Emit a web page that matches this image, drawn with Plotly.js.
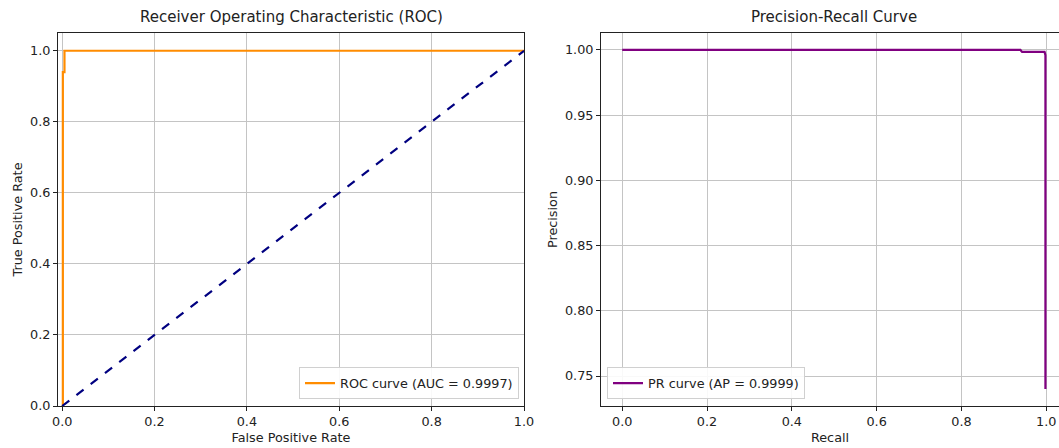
<!DOCTYPE html>
<html>
<head>
<meta charset="utf-8">
<script src="https://cdn.plot.ly/plotly-3.0.1.min.js"></script>
<style>html,body{margin:0;padding:0;background:#fff;}#chart{width:1059px;height:448px;}</style>
</head>
<body>
<div id="chart"></div>
<script>
// ROC curve data
const rocFpr = [0.0, 0.0015, 0.0015, 0.005, 0.005, 1.0];
const rocTpr = [0.0, 0.0, 0.94, 0.94, 1.0, 1.0];
const rocLabel = 'ROC curve (AUC = 0.9997)';
// chance diagonal
const diagX = [0, 1];
const diagY = [0, 1];
// Precision-Recall data
const prRecall = [0.0, 0.939, 0.943, 0.996, 0.998, 0.998];
const prPrecision = [1.0, 1.0, 0.9985, 0.9985, 0.996, 0.740];
const prLabel = 'PR curve (AP = 0.9999)';

const W = 1059, H = 448;
const FS = 12.8;
const font = {family: 'DejaVu Sans, sans-serif', size: FS, color: '#222'};
const axisBase = {
  showline: true, linecolor: '#222', linewidth: 1,
  ticks: 'outside', ticklen: 4, tickcolor: '#222', tickwidth: 1,
  showgrid: true, gridcolor: '#c4c4c4', gridwidth: 1,
  zeroline: false, automargin: false,
  tickfont: {family: 'DejaVu Sans, sans-serif', size: FS, color: '#222'}
};

const traces = [
  {x: rocFpr, y: rocTpr, mode: 'lines', name: rocLabel, line: {color: '#ff8c00', width: 2.2}, xaxis: 'x', yaxis: 'y', legend: 'legend'},
  {x: diagX, y: diagY, mode: 'lines', showlegend: false, line: {color: '#000080', width: 2.2, dash: 'dash'}, xaxis: 'x', yaxis: 'y'},
  {x: prRecall, y: prPrecision, mode: 'lines', name: prLabel, line: {color: '#800080', width: 2.2}, xaxis: 'x2', yaxis: 'y2', legend: 'legend2'}
];

const layout = {
  width: W, height: H,
  margin: {l: 0, r: 0, t: 33, b: 42},
  paper_bgcolor: '#fff', plot_bgcolor: '#fff',
  font: font,
  showlegend: true,
  xaxis: Object.assign({}, axisBase, {
    domain: [58 / W, 524 / W], range: [-0.009, 1.0], dtick: 0.2, tickformat: '.1f', mirror: true,
    title: {text: 'False Positive Rate', font: {size: FS, color: '#222'}, standoff: 4}
  }),
  yaxis: Object.assign({}, axisBase, {
    anchor: 'x', range: [0, 1.05], dtick: 0.2, tickformat: '.1f', mirror: true,
    title: {text: 'True Positive Rate', font: {size: FS, color: '#222'}, standoff: 4}
  }),
  xaxis2: Object.assign({}, axisBase, {
    domain: [601 / W, 1], range: [-0.05, 1.03], dtick: 0.2, tickformat: '.1f', mirror: true, anchor: 'y2',
    title: {text: 'Recall', font: {size: FS, color: '#222'}, standoff: 4}
  }),
  yaxis2: Object.assign({}, axisBase, {
    anchor: 'x2', range: [0.727, 1.013], dtick: 0.05, tickformat: '.2f', mirror: false,
    title: {text: 'Precision', font: {size: FS, color: '#222'}, standoff: 4}
  }),
  legend: {
    x: 519 / W, xanchor: 'right', y: 0.018, yanchor: 'bottom',
    bgcolor: 'rgba(255,255,255,0.9)', bordercolor: '#d0d0d0', borderwidth: 1,
    font: {family: 'DejaVu Sans, sans-serif', size: FS, color: '#222'}
  },
  legend2: {
    x: 607 / W, xanchor: 'left', y: 0.018, yanchor: 'bottom',
    bgcolor: 'rgba(255,255,255,0.9)', bordercolor: '#d0d0d0', borderwidth: 1,
    font: {family: 'DejaVu Sans, sans-serif', size: FS, color: '#222'}
  },
  annotations: [
    {text: 'Receiver Operating Characteristic (ROC)', xref: 'paper', yref: 'paper', x: (58 + 524) / 2 / W, y: 1, yshift: 5, yanchor: 'bottom', xanchor: 'center', showarrow: false, font: {family: 'DejaVu Sans, sans-serif', size: 15, color: '#222'}},
    {text: 'Precision-Recall Curve', xref: 'paper', yref: 'paper', x: (601 + 1067) / 2 / W, y: 1, yshift: 5, yanchor: 'bottom', xanchor: 'center', showarrow: false, font: {family: 'DejaVu Sans, sans-serif', size: 15, color: '#222'}}
  ]
};

Plotly.newPlot('chart', traces, layout, {displayModeBar: false, staticPlot: true});
</script>
</body>
</html>
